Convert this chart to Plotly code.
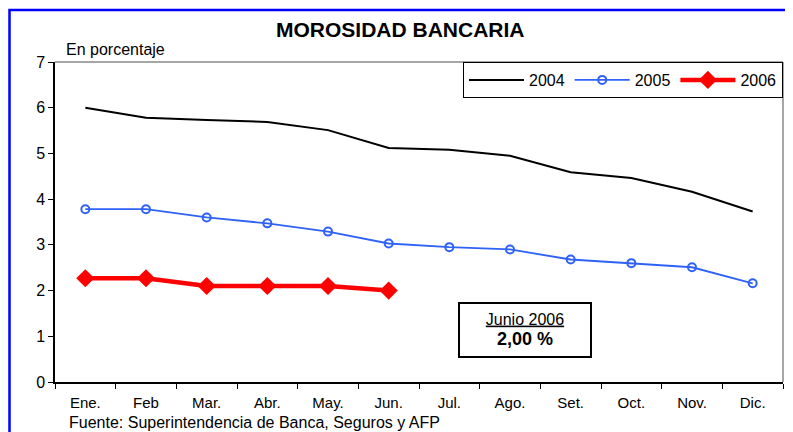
import plotly.graph_objects as go

months = ["Ene.", "Feb", "Mar.", "Abr.", "May.", "Jun.", "Jul.", "Ago.", "Set.", "Oct.", "Nov.", "Dic."]
y2004 = [6.00, 5.78, 5.73, 5.69, 5.51, 5.12, 5.08, 4.95, 4.59, 4.46, 4.16, 3.73]
y2005 = [3.78, 3.78, 3.60, 3.47, 3.29, 3.03, 2.95, 2.90, 2.68, 2.60, 2.51, 2.16]
y2006 = [2.27, 2.27, 2.10, 2.10, 2.10, 2.00]
months2006 = months[:len(y2006)]

FONT = "Liberation Sans, Arial, sans-serif"

fig = go.Figure()
fig.add_trace(go.Scatter(x=months, y=y2004, name="2004", mode="lines",
                         line=dict(color="black", width=2)))
fig.add_trace(go.Scatter(x=months, y=y2005, name="2005", mode="lines+markers",
                         line=dict(color="#2f62f5", width=1.8),
                         marker=dict(symbol="circle-open", size=8, color="#2f62f5",
                                     line=dict(width=2, color="#2f62f5"))))
fig.add_trace(go.Scatter(x=months2006, y=y2006, name="2006", mode="lines+markers",
                         line=dict(color="#ff0000", width=4.5),
                         marker=dict(symbol="diamond", size=14, color="#ff0000")))

fig.update_layout(
    width=785, height=424,
    margin=dict(l=47, r=10, t=54, b=50),
    paper_bgcolor="white", plot_bgcolor="white",
    font=dict(family=FONT, size=15, color="black"),
    showlegend=True,
    legend=dict(orientation="h", x=1, xanchor="right", y=1, yanchor="top",
                bordercolor="black", borderwidth=1, bgcolor="white",
                font=dict(size=16), itemwidth=55, tracegroupgap=0),
    xaxis=dict(type="category", showgrid=False, showline=True, linecolor="black",
               linewidth=1.5, ticks="outside", tickson="boundaries", ticklen=5,
               tickcolor="black", tickfont=dict(size=15), range=[-0.5, 11.5],
               ticklabelstandoff=6),
    yaxis=dict(range=[0, 7], dtick=1, showgrid=False, showline=True, linecolor="black",
               linewidth=1.5, ticks="outside", ticklen=5, tickcolor="black",
               tickfont=dict(size=16), zeroline=False),
    shapes=[
        dict(type="line", xref="paper", yref="paper", x0=0, x1=1, y0=1, y1=1,
             line=dict(color="#888888", width=1.5)),
        dict(type="line", xref="paper", yref="paper", x0=1, x1=1, y0=0, y1=1,
             line=dict(color="#888888", width=1.5)),
        dict(type="rect", xref="paper", yref="paper", x0=-0.0625, x1=1.2, y0=-0.3, y1=1.1625,
             line=dict(color="#0000ff", width=2.5)),
    ],
    annotations=[
        dict(text="<b>MOROSIDAD BANCARIA</b>", xref="paper", yref="paper",
             x=0.475, y=1.1, xanchor="center", yanchor="middle", showarrow=False,
             font=dict(size=21, family=FONT)),
        dict(text="En porcentaje", xref="paper", yref="paper",
             x=0.013, y=1.04, xanchor="left", yanchor="middle", showarrow=False,
             font=dict(size=16, family=FONT)),
        dict(text="Fuente: Superintendencia de Banca, Seguros y AFP", xref="paper", yref="paper",
             x=0.016, y=-0.128, xanchor="left", yanchor="middle", showarrow=False,
             font=dict(size=16, family=FONT)),
        dict(text="<u>Junio 2006</u><br><b><span style='font-size:18px'>2,00 %</span></b>",
             xref="paper", yref="paper",
             x=0.6456, y=0.1625, xanchor="center", yanchor="middle", showarrow=False,
             font=dict(size=16, family=FONT), align="center",
             bordercolor="black", borderwidth=2, bgcolor="white",
             width=128, height=50),
    ],
)

fig.write_html("out.html")
